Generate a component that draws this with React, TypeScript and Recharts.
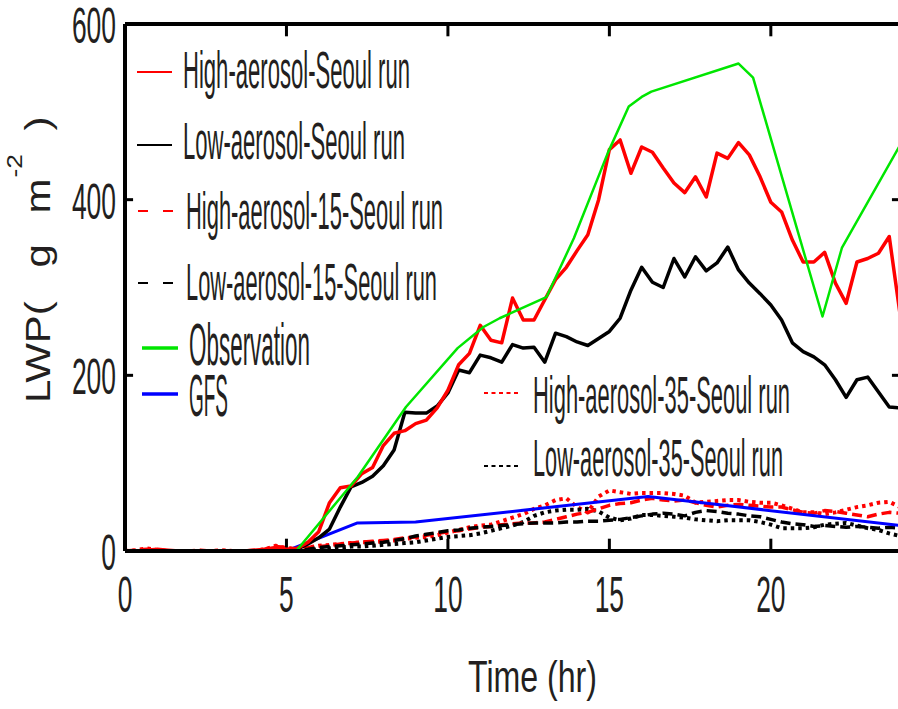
import { LineChart, Line, XAxis, YAxis, ReferenceLine } from 'recharts';

const FONT = "'Liberation Sans', Arial, sans-serif";
const INK = '#231f20';
const RED = '#ff0000';
const BLACK = '#000000';
const GREEN = '#00e600';
const BLUE = '#0000ff';

// model output every 20 minutes, 0–24 h
const STEP_HR = 1 / 3;

const HIGH = [
  0, 0, 1, 2, 1, 0, 0, 0, 0, 0, 0, 0, 1, 2, 4,
  2, 3, 10, 22, 55, 72, 74, 88, 95, 120, 134, 137, 145, 149, 163,
  183, 212, 225, 257, 240, 237, 288, 263, 263, 286, 309, 323, 342, 360, 400,
  457, 468, 430, 460, 454, 436, 419, 408, 426, 403, 453, 447, 465, 451, 426,
  397, 386, 354, 329, 329, 340, 305, 282, 329, 333, 339, 358, 270,
];
const LOW = [
  0, 0, 0, 0, 0, 0, 0, 0, 0, 0, 0, 0, 0, 0, 0,
  0, 2, 8, 15, 25, 50, 73, 78, 85, 97, 115, 158, 157, 157, 165,
  180, 206, 203, 223, 220, 215, 235, 231, 232, 215, 248, 244, 238, 234, 242,
  250, 265, 297, 323, 306, 300, 333, 312, 335, 319, 328, 346, 320, 305, 293,
  280, 263, 237, 227, 221, 212, 195, 175, 195, 198, 181, 164, 163,
];
const HIGH_15 = [
  0, 1, 2, 1, 0, 0, 0, 1, 0, 0, 0, 0, 1, 2, 5,
  4, 2, 4, 5, 6, 8, 9, 10, 11, 12, 13, 15, 16, 18, 20,
  22, 23, 25, 27, 28, 30, 31, 32, 32, 33, 36, 39, 42, 44, 48,
  52, 54, 55, 58, 60, 58, 57, 58, 55, 52, 50, 52, 53, 52, 51,
  50, 50, 47, 44, 43, 46, 45, 43, 41, 39, 42, 44, 43,
];
const LOW_15 = [
  0, 0, 0, 0, 0, 0, 0, 0, 0, 0, 0, 0, 0, 0, 0,
  0, 1, 2, 4, 5, 6, 7, 8, 9, 10, 12, 14, 17, 19, 21,
  23, 24, 26, 27, 28, 29, 30, 31, 32, 32, 32, 33, 33, 34, 34,
  35, 36, 38, 40, 42, 43, 42, 40, 44, 46, 45, 43, 42, 40, 39,
  36, 33, 31, 30, 28, 29, 28, 27, 28, 27, 26, 27, 26,
];
const HIGH_35 = [
  0, 1, 3, 1, 0, 0, 0, 0, 0, 1, 0, 0, 0, 2, 6,
  3, 2, 4, 6, 7, 8, 9, 10, 10, 11, 12, 14, 15, 16, 18,
  21, 24, 27, 29, 30, 34, 38, 42, 48, 52, 58, 60, 50, 44, 62,
  69, 67, 65, 66, 66, 66, 65, 63, 55, 56, 57, 58, 58, 56, 55,
  55, 52, 48, 44, 44, 42, 44, 47, 50, 52, 55, 56, 50,
];
const LOW_35 = [
  0, 0, 0, 0, 0, 0, 0, 0, 0, 0, 0, 0, 0, 0, 0,
  0, 0, 1, 2, 3, 4, 5, 5, 6, 7, 8, 9, 10, 12, 14,
  16, 17, 18, 20, 23, 26, 29, 33, 40, 44, 46, 47, 47, 48, 45,
  38, 35, 37, 41, 41, 40, 39, 38, 36, 35, 34, 35, 35, 35, 33,
  30, 26, 26, 26, 27, 30, 31, 32, 29, 26, 24, 20, 17,
];

const OBS_T = [5.3, 7.2, 8.7, 10.3, 11.1, 11.6, 13.05, 13.9, 14.95, 15.6, 16.0, 16.3, 19.0, 19.45, 21.6, 22.2, 24.0];
const OBS_V = [0, 84, 164, 231, 255, 265, 289, 356, 453, 506, 517, 523, 555, 539, 267, 345, 462];

const GFS_T = [5.0, 7.2, 9.0, 16.2, 24.0];
const GFS_V = [0, 32, 33, 62, 29];

const X_TICKS = [0, 5, 10, 15, 20];
const Y_TICKS = [0, 200, 400, 600];

const TIME = HIGH.map((_, i) => +(i * STEP_HR).toFixed(3));
const rows = TIME.map((t, i) => ({
  t,
  high: HIGH[i],
  low: LOW[i],
  high15: HIGH_15[i],
  low15: LOW_15[i],
  high35: HIGH_35[i],
  low35: LOW_35[i],
}));
const obsRows = OBS_T.map((t, i) => ({ t, v: OBS_V[i] }));
const gfsRows = GFS_T.map((t, i) => ({ t, v: GFS_V[i] }));

type Series = {
  key: string;
  name: string;
  color: string;
  width: number;
  dash?: string;
  keyDash?: string;
  keyWidth: number;
  data?: { t: number; v: number }[];
};

// drawing order: bottom first
const SERIES: Series[] = [
  { key: 'high35', name: 'High-aerosol-35-Seoul run', color: RED, width: 4, dash: '3.5 4', keyDash: '4 3.5', keyWidth: 2 },
  { key: 'low35', name: 'Low-aerosol-35-Seoul run', color: BLACK, width: 4, dash: '3.5 4', keyDash: '4 3.5', keyWidth: 2 },
  { key: 'high15', name: 'High-aerosol-15-Seoul run', color: RED, width: 3.5, dash: '10 5', keyDash: '10 15', keyWidth: 2 },
  { key: 'low15', name: 'Low-aerosol-15-Seoul run', color: BLACK, width: 3.5, dash: '10 5', keyDash: '10 15', keyWidth: 2 },
  { key: 'gfs', name: 'GFS', color: BLUE, width: 3, keyWidth: 3.5, data: gfsRows },
  { key: 'low', name: 'Low-aerosol-Seoul run', color: BLACK, width: 3.5, keyWidth: 2 },
  { key: 'high', name: 'High-aerosol-Seoul run', color: RED, width: 3.5, keyWidth: 2 },
  { key: 'obs', name: 'Observation', color: GREEN, width: 2.5, keyWidth: 3.5, data: obsRows },
];

// legend placement: sample line x0..x1 at ly, label from tx with width tw centred on ty
const LEGEND_POS: Record<string, { x0: number; x1: number; ly: number; tx: number; tw: number; ty: number; fs: number }> = {
  high: { x0: 137, x1: 172, ly: 72, tx: 183, tw: 227, ty: 70, fs: 51 },
  low: { x0: 137, x1: 172, ly: 145, tx: 183, tw: 222, ty: 141, fs: 51 },
  high15: { x0: 138, x1: 175, ly: 211, tx: 186, tw: 257, ty: 211, fs: 51 },
  low15: { x0: 138, x1: 175, ly: 283, tx: 186, tw: 251, ty: 282, fs: 51 },
  obs: { x0: 142, x1: 178, ly: 348, tx: 189, tw: 121, ty: 344, fs: 60 },
  gfs: { x0: 142, x1: 178, ly: 394, tx: 189, tw: 39, ty: 395, fs: 60 },
  high35: { x0: 484, x1: 520, ly: 393, tx: 533, tw: 257, ty: 395, fs: 51 },
  low35: { x0: 484, x1: 520, ly: 466, tx: 533, tw: 250, ty: 458, fs: 51 },
};

const TICK_FS = 50;
const DIGIT_W = 14.7;
const AXIS_W = 4;

function YTick({ x, y, payload }: any) {
  const s = String(payload.value);
  const w = s.length * DIGIT_W;
  return (
    <text x={x - w} y={y + 2} textLength={w} lengthAdjust="spacingAndGlyphs" fontSize={TICK_FS}
      fontFamily={FONT} fill={INK} dominantBaseline="central">{s}</text>
  );
}

function XTick({ x, y, payload }: any) {
  const s = String(payload.value);
  const w = s.length * DIGIT_W;
  return (
    <text x={x - w / 2} y={y} textLength={w} lengthAdjust="spacingAndGlyphs" fontSize={TICK_FS}
      fontFamily={FONT} fill={INK} dominantBaseline="central">{s}</text>
  );
}

// inward tick lengths in data units (about 12 px vertical, 8 px horizontal)
const X_TICK_LEN = 14;
const Y_TICK_LEN = 0.25;

export default function App() {
  return (
    <div style={{ position: 'fixed', left: 0, top: 0, width: 898, height: 709, overflow: 'hidden', background: '#fff' }}>
      <LineChart width={912} height={709} data={rows} margin={{ top: 24, right: 12, bottom: 98, left: 65 }}>
        <XAxis dataKey="t" type="number" domain={[0, 24]} ticks={X_TICKS} interval={0} allowDataOverflow
          height={60} tickSize={0} tickMargin={44} tickLine={false}
          axisLine={{ stroke: BLACK, strokeWidth: AXIS_W }} tick={(p: any) => <XTick {...p} />} />
        <YAxis type="number" domain={[0, 600]} ticks={Y_TICKS} interval={0} allowDataOverflow
          width={60} tickSize={0} tickMargin={9} tickLine={false}
          axisLine={{ stroke: BLACK, strokeWidth: AXIS_W }} tick={(p: any) => <YTick {...p} />} />

        {/* box frame */}
        <ReferenceLine y={600} stroke={BLACK} strokeWidth={AXIS_W} />
        <ReferenceLine x={24} stroke={BLACK} strokeWidth={AXIS_W} />

        {/* inward ticks on all four sides */}
        {X_TICKS.slice(1).map((v) => (
          <ReferenceLine key={`xb${v}`} segment={[{ x: v, y: 0 }, { x: v, y: X_TICK_LEN }]} stroke={BLACK} strokeWidth={3} />
        ))}
        {X_TICKS.slice(1).map((v) => (
          <ReferenceLine key={`xt${v}`} segment={[{ x: v, y: 600 }, { x: v, y: 600 - X_TICK_LEN }]} stroke={BLACK} strokeWidth={3} />
        ))}
        {Y_TICKS.slice(1, -1).map((v) => (
          <ReferenceLine key={`yl${v}`} segment={[{ x: 0, y: v }, { x: Y_TICK_LEN, y: v }]} stroke={BLACK} strokeWidth={3} />
        ))}
        {Y_TICKS.slice(1, -1).map((v) => (
          <ReferenceLine key={`yr${v}`} segment={[{ x: 24 - Y_TICK_LEN, y: v }, { x: 24, y: v }]} stroke={BLACK} strokeWidth={3} />
        ))}

        {SERIES.map((s) => (
          <Line key={s.key} data={s.data} dataKey={s.data ? 'v' : s.key} name={s.name} type="linear"
            stroke={s.color} strokeWidth={s.width} strokeDasharray={s.dash} dot={false} activeDot={false}
            strokeLinejoin="round" isAnimationActive={false} />
        ))}
      </LineChart>

      <svg width={898} height={709} style={{ position: 'absolute', left: 0, top: 0, pointerEvents: 'none' }}>
        {SERIES.map((s) => {
          const p = LEGEND_POS[s.key];
          return (
            <g key={s.key}>
              <line x1={p.x0} x2={p.x1} y1={p.ly} y2={p.ly} stroke={s.color} strokeWidth={s.keyWidth} strokeDasharray={s.keyDash} />
              <text x={p.tx} y={p.ty} textLength={p.tw} lengthAdjust="spacingAndGlyphs" fontSize={p.fs}
                fontFamily={FONT} fill={INK} dominantBaseline="central">{s.name}</text>
            </g>
          );
        })}

        <text x={468} y={676} textLength={129} lengthAdjust="spacingAndGlyphs" fontSize={45}
          fontFamily={FONT} fill={INK} dominantBaseline="central">Time (hr)</text>

        <g transform="translate(50,403) rotate(-90) scale(1.2,1)" fontFamily={FONT} fill={INK}>
          <text x={0} y={0} fontSize={35}>LWP(</text>
          <text x={113} y={0} fontSize={35}>g</text>
          <text x={158} y={0} fontSize={35}>m</text>
          <text x={188} y={-28} fontSize={22}>-2</text>
          <text x={227} y={0} fontSize={35}>)</text>
        </g>
      </svg>
    </div>
  );
}
